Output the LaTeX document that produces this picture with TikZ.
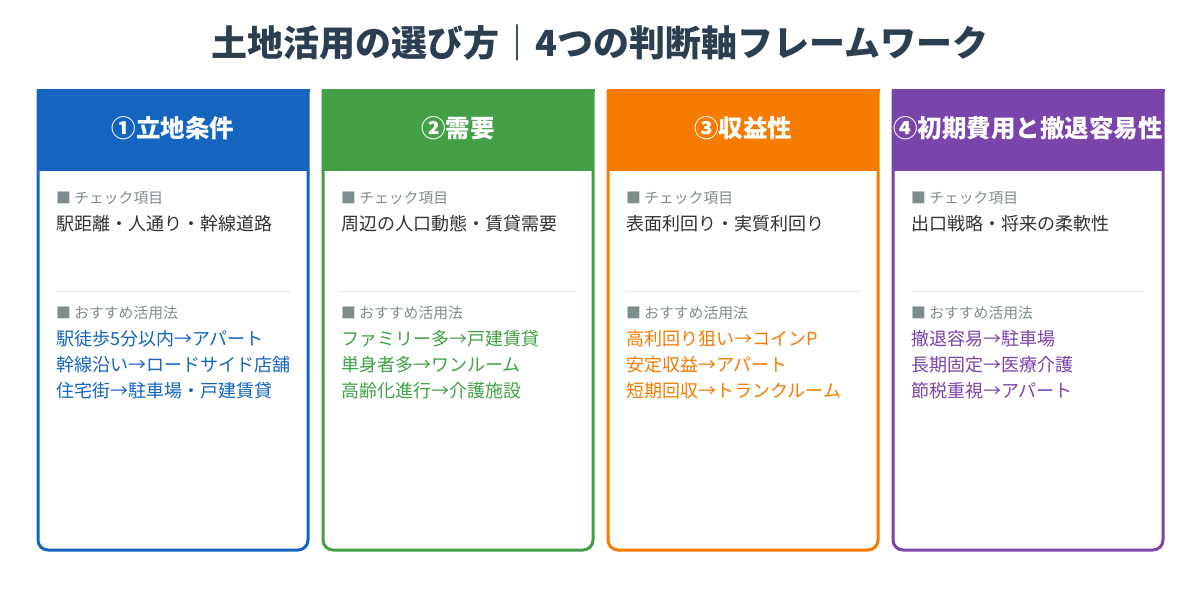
\documentclass[tikz,border=0pt]{standalone}
\usepackage{fontspec}
\setmainfont{Noto Sans CJK JP}
\usetikzlibrary{positioning}
\definecolor{titlec}{HTML}{2C3E50}
\definecolor{cblue}{HTML}{1565C0}
\definecolor{cgreen}{HTML}{43A047}
\definecolor{corange}{HTML}{F57C00}
\definecolor{cpurple}{HTML}{7B44AB}
\definecolor{labelc}{HTML}{7F8C8D}
\definecolor{bodyc}{HTML}{333333}
\definecolor{rulec}{HTML}{E5E5E5}
\tikzset{
  head/.style={font=\fontsize{24.5}{28}\selectfont\bfseries,text=white},
  small/.style={anchor=west,font=\fontsize{14.8}{17}\selectfont,text=labelc,inner sep=0pt},
  item/.style={anchor=west,font=\fontsize{18}{21}\selectfont,text=bodyc,inner sep=0pt},
  pick/.style={anchor=west,font=\fontsize{18}{21}\selectfont,inner sep=0pt},
}
% card: (name) (left x) (colour) (title) (check) (use 1) (use 2) (use 3)
\newcommand\axiscard[8]{
  \fill[#3] (#2,90) rectangle ++(270,81);
  \draw[#3,line width=3pt,rounded corners=10pt] (#2,90) -- (#2,550) -- (#2+270,550) -- (#2+270,90);
  \draw[#3,line width=3pt] (#2-1.5,90) -- (#2+271.5,90);
  \node[head] (#1h) at (#2+135,128) {#4};
  \node[small] (#1c) at (#2+18,198) {■ チェック項目};
  \node[item] (#1i) at (#2+18,224) {#5};
  \draw[rulec,line width=1pt] (#2+18,291) -- (#2+252,291);
  \node[small] (#1r) at (#2+18,313) {■ おすすめ活用法};
  \node[pick,text=#3] (#1a) at (#2+18,339) {#6};
  \node[pick,text=#3] (#1b) at (#2+18,365) {#7};
  \node[pick,text=#3] (#1d) at (#2+18,391) {#8};
}
\begin{document}
\begin{tikzpicture}[x=1pt,y=-1pt]
	\useasboundingbox[fill=white] (0,0) rectangle (1200,600);
	%title
	\node[font=\fontsize{36}{40}\selectfont\bfseries,text=titlec] (title) at (600,43) {土地活用の選び方｜4つの判断軸フレームワーク};
	%cards
	\axiscard{loc}{38}{cblue}{①立地条件}{駅距離・人通り・幹線道路}{駅徒歩5分以内→アパート}{幹線沿い→ロードサイド店舗}{住宅街→駐車場・戸建賃貸}
	\axiscard{dem}{323}{cgreen}{②需要}{周辺の人口動態・賃貸需要}{ファミリー多→戸建賃貸}{単身者多→ワンルーム}{高齢化進行→介護施設}
	\axiscard{yld}{608}{corange}{③収益性}{表面利回り・実質利回り}{高利回り狙い→コインP}{安定収益→アパート}{短期回収→トランクルーム}
	\axiscard{ext}{893}{cpurple}{④初期費用と撤退容易性}{出口戦略・将来の柔軟性}{撤退容易→駐車場}{長期固定→医療介護}{節税重視→アパート}
\end{tikzpicture}
\end{document}
